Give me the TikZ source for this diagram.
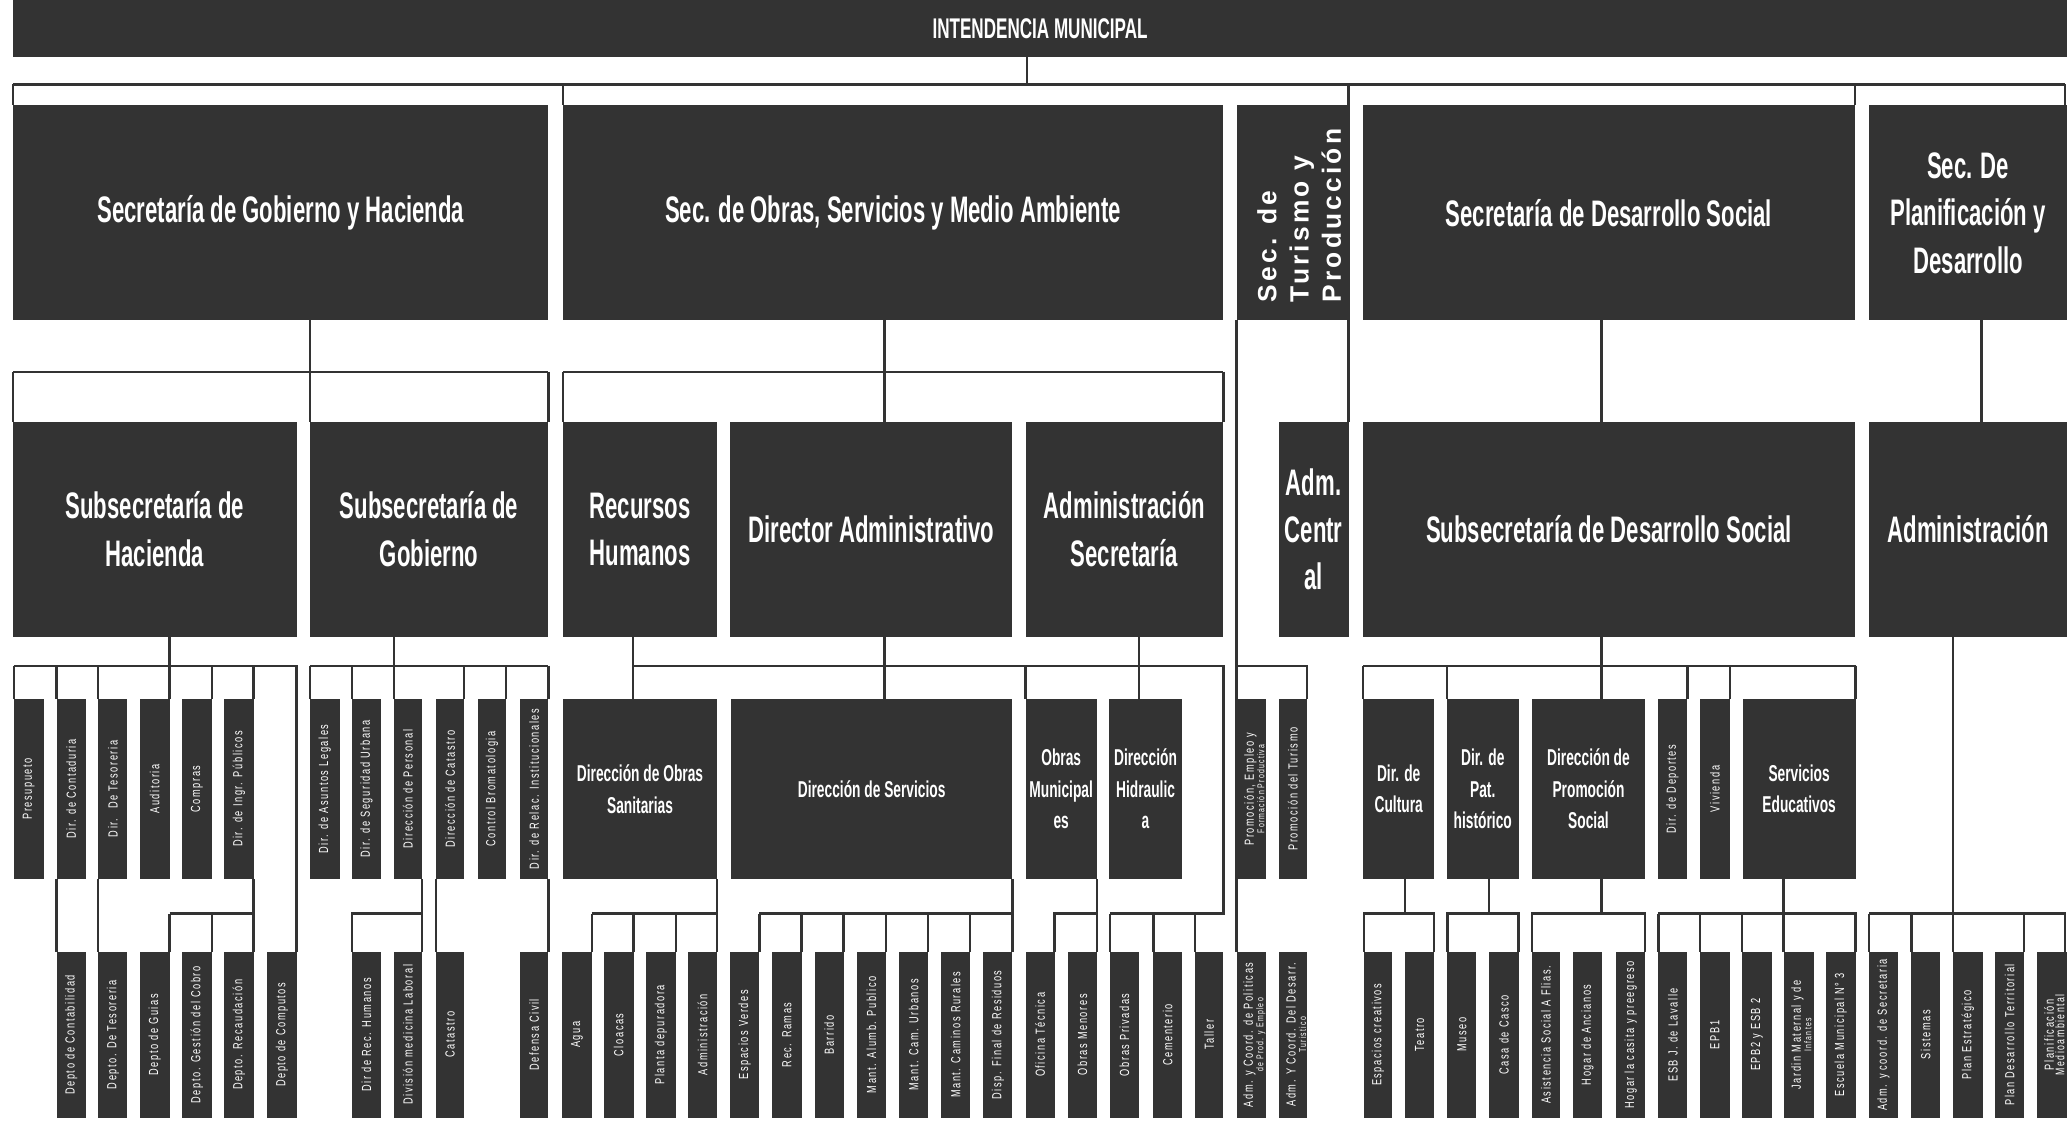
\documentclass[tikz,border=0pt]{standalone}
\usepackage{fontspec}
\setmainfont{Liberation Sans}
\newfontfamily\cbf{Liberation Sans}[FakeStretch=0.6]
\newfontfamily\smf{Liberation Sans}[FakeStretch=0.7,LetterSpace=12]
\newfontfamily\trf{Liberation Sans}[LetterSpace=12]
\definecolor{dk}{HTML}{333333}
\tikzset{
 box/.style={fill=dk,inner sep=0pt,outer sep=0pt,text=white,align=center},
 ln/.style={draw=dk,line width=1.8pt},
 tf/.style={font=\cbf\bfseries\fontsize{21.6}{26}\selectfont},
 bf/.style={font=\cbf\bfseries\fontsize{28}{36}\selectfont},
 mf/.style={font=\cbf\bfseries\fontsize{17.4}{24}\selectfont},
 sm/.style={font=\smf\fontsize{10}{11}\selectfont},
}
\newcommand\bx[7][]{\node[box,#1,minimum width={#5pt-#3pt},minimum height={#6pt-#4pt}] (#2) at ({(#3+#5)/2},{(#4+#6)/2}) {#7};}
\newcommand\rt[1]{\rotatebox{90}{#1}}
\newcommand\cl[6]{\begin{scope}
\clip (#1.south west) rectangle (#1.north east);
\node[sm,rotate=90,align=center,inner sep=0pt,text=white] (#2) at ([xshift=#3pt]#1.center) {#4\\[-3pt]\fontsize{#6}{#6}\selectfont #5};
\end{scope}}
\begin{document}
\begin{tikzpicture}[x=1pt,y=-1pt]
\useasboundingbox (0,0) rectangle (1568,856);
\fill[white] (0,0) rectangle (1568,856);
% top
\bx[tf]{top}{10}{0}{1568}{43}{INTENDENCIA MUNICIPAL}
% row 1
\bx[bf]{s1}{10}{80}{416}{243}{Secretaría de Gobierno y Hacienda}
\bx[bf]{s2}{427}{80}{928}{243}{Sec. de Obras, Servicios y Medio Ambiente}
\bx{s3}{938}{80}{1023}{243}{}
\node[font=\trf\bfseries\fontsize{20}{24.5}\selectfont,text=white,rotate=90,align=left,inner sep=0pt] (s3t) at ([xshift=5pt,yshift=-2pt]s3.center) {Sec. de\\Turismo y\\Producción};
\bx[bf]{s4}{1034}{80}{1407}{243}{Secretaría de Desarrollo Social}
\bx[bf]{s5}{1418}{80}{1568}{243}{Sec. De\\Planificación y\\Desarrollo}
% row 2
\bx[bf]{h}{10}{320}{225}{483}{Subsecretaría de\\Hacienda}
\bx[bf]{g}{235}{320}{416}{483}{Subsecretaría de\\Gobierno}
\bx[bf]{rh}{427}{320}{544}{483}{Recursos\\Humanos}
\bx[bf]{da}{554}{320}{768}{483}{Director Administrativo}
\bx[bf]{as}{778}{320}{928}{483}{Administración\\Secretaría}
\bx[bf]{ac}{970}{320}{1023}{483}{Adm.\\Centr\\al}
\bx[bf]{ds}{1034}{320}{1407}{483}{Subsecretaría de Desarrollo Social}
\bx[bf]{ad}{1418}{320}{1568}{483}{Administración}
% row 3
\bx[sm]{pres}{10.5}{530}{33}{667}{\rt{Presupueto}}
\bx[sm]{dcont}{43}{530}{65}{667}{\rt{Dir. de Contaduria}}
\bx[sm]{dtes}{74.5}{530}{96.7}{667}{\rt{Dir. \ De Tesoreria}}
\bx[sm]{aud}{106}{530}{128.7}{667}{\rt{Auditoria}}
\bx[sm]{comp}{138}{530}{160.7}{667}{\rt{Compras}}
\bx[sm]{ingr}{170}{530}{192.4}{667}{\rt{Dir. de Ingr. Públicos}}
\bx[sm]{leg}{235}{530}{257.6}{667}{\rt{Dir. de Asuntos Legales}}
\bx[sm]{seg}{266.8}{530}{289}{667}{\rt{Dir. de Seguridad Urbana}}
\bx[sm]{pers}{298.9}{530}{320}{667}{\rt{Dirección de Personal}}
\bx[sm]{cat}{330.7}{530}{352.2}{667}{\rt{Dirección de Catastro}}
\bx[sm]{brom}{362.3}{530}{384}{667}{\rt{Control Bromatologia}}
\bx[sm]{rel}{394.5}{530}{416}{667}{\rt{Dir. de Relac. Institucionales}}
\bx[mf]{dos}{427}{530}{544}{667}{Dirección de Obras\\Sanitarias}
\bx[mf]{dser}{554.5}{530}{768}{667}{Dirección de Servicios}
\bx[mf]{om}{778}{530}{832}{667}{Obras\\Municipal\\es}
\bx[mf]{dh}{841.5}{530}{896.5}{667}{Dirección\\Hidraulic\\a}
\bx{pe}{938}{530}{960}{667}{}
\cl{pe}{pet}{2.5}{Promoción, Empleo y}{Formación Productiva}{7.5}
\bx[sm]{pt}{970}{530}{991.5}{667}{\rt{Promoción del Turismo}}
\bx[mf]{cul}{1034}{530}{1088}{667}{Dir. de\\Cultura}
\bx[mf]{pat}{1097.6}{530}{1152}{667}{Dir. de\\Pat.\\histórico}
\bx[mf]{prom}{1162}{530}{1248}{667}{Dirección de\\Promoción\\Social}
\bx[sm]{dep}{1257.5}{530}{1280}{667}{\rt{Dir. de Deportes}}
\bx[sm]{viv}{1289.5}{530}{1312.3}{667}{\rt{Vivienda}}
\bx[mf]{se}{1322}{530}{1407.6}{667}{Servicios\\Educativos}
% row 4
\bx[sm]{dcb}{43}{722}{65}{848}{\rt{Depto de Contabilidad}}
\bx[sm]{dtz}{74.5}{722}{96.7}{848}{\rt{Depto. De Tesoreria}}
\bx[sm]{guia}{106}{722}{128.7}{848}{\rt{Depto de Guias}}
\bx[sm]{gest}{138}{722}{160.7}{848}{\rt{Depto. Gestión del Cobro}}
\bx[sm]{rec}{170}{722}{192.4}{848}{\rt{Depto. Recaudación}}
\bx[sm]{compu}{202.7}{722}{225}{848}{\rt{Depto de Computos}}
\bx[sm]{rrh}{266.8}{722}{289}{848}{\rt{Dir de Rec. Humanos}}
\bx[sm]{med}{298.9}{722}{320}{848}{\rt{División medicina Laboral}}
\bx[sm]{cata}{330.7}{722}{352.2}{848}{\rt{Catastro}}
\bx[sm]{dc}{394.5}{722}{416}{848}{\rt{Defensa Civil}}
\bx[sm]{agua}{426.5}{722}{449}{848}{\rt{Agua}}
\bx[sm]{cloa}{458}{722}{480.6}{848}{\rt{Cloacas}}
\bx[sm]{plan}{490}{722}{512.6}{848}{\rt{Planta depuradora}}
\bx[sm]{adm}{522}{722}{544}{848}{\rt{Administración}}
\bx[sm]{ev}{554}{722}{576}{848}{\rt{Espacios Verdes}}
\bx[sm]{rr}{585.7}{722}{608}{848}{\rt{Rec. Ramas}}
\bx[sm]{bar}{618}{722}{640}{848}{\rt{Barrido}}
\bx[sm]{alum}{650}{722}{672}{848}{\rt{Mant. Alumb. Publico}}
\bx[sm]{cam}{682}{722}{704}{848}{\rt{Mant. Cam. Urbanos}}
\bx[sm]{rur}{714}{722}{736}{848}{\rt{Mant. Caminos Rurales}}
\bx[sm]{disp}{746}{722}{768}{848}{\rt{Disp. Final de Residuos}}
\bx[sm]{ot}{778}{722}{800}{848}{\rt{Oficina Técnica}}
\bx[sm]{omen}{810}{722}{832}{848}{\rt{Obras Menores}}
\bx[sm]{opri}{842}{722}{864}{848}{\rt{Obras Privadas}}
\bx[sm]{cem}{875}{722}{896.5}{848}{\rt{Cementerio}}
\bx[sm]{tal}{906.6}{722}{928}{848}{\rt{Taller}}
\bx{acp}{938}{722}{960}{848}{}
\cl{acp}{acpt}{2.5}{Adm. y Coord. de Politicas}{de Prod. y Empleo}{7.5}
\bx{acd}{970}{722}{991.5}{848}{}
\cl{acd}{acdt}{2.5}{Adm. Y Coord. Del Desarr.}{Turistico}{7.5}
\bx[sm]{ecr}{1034.7}{722}{1056}{848}{\rt{Espacios creativos}}
\bx[sm]{tea}{1066}{722}{1088}{848}{\rt{Teatro}}
\bx[sm]{mus}{1098}{722}{1120}{848}{\rt{Museo}}
\bx[sm]{cc}{1129.5}{722}{1152}{848}{\rt{Casa de Casco}}
\bx[sm]{asi}{1162}{722}{1183.5}{848}{\rt{Asistencia Social A Flias.}}
\bx[sm]{han}{1193.6}{722}{1215}{848}{\rt{Hogar de Ancianos}}
\bx[sm]{hcas}{1226}{722}{1248}{848}{\rt{Hogar la casita y preegreso}}
\bx[sm]{esb}{1258}{722}{1280}{848}{\rt{ESB J. de Lavalle}}
\bx[sm]{epb1}{1289.5}{722}{1312}{848}{\rt{EPB1}}
\bx[sm]{epb2}{1321.6}{722}{1344}{848}{\rt{EPB2 y ESB 2}}
\bx{jard}{1353}{722}{1376}{848}{}
\cl{jard}{jardt}{2}{Jardin Maternal y de}{Infantes}{7.5}
\bx[sm]{esc}{1385}{722}{1407.6}{848}{\rt{Escuela Municipal N° 3}}
\bx[sm]{acs}{1418}{722}{1439.5}{848}{\rt{Adm. y coord. de Secretaria}}
\bx[sm]{sis}{1450}{722}{1471.6}{848}{\rt{Sistemas}}
\bx[sm]{pest}{1481.7}{722}{1504}{848}{\rt{Plan Estratégico}}
\bx[sm]{pdt}{1513.4}{722}{1535.5}{848}{\rt{Plan Desarrollo Territorial}}
\bx{pma}{1545}{722}{1567.7}{848}{}
\cl{pma}{pmat}{2}{Planificación}{Medioambiental}{9.5}
% levels
\coordinate (L0) at (0,64);
\coordinate (L1) at (0,282);
\coordinate (L2) at (0,505);
\coordinate (L3) at (0,693);
\coordinate (xT) at (779,0);
\coordinate (xB) at (671,0);
\coordinate (xRH) at (480,0);
\coordinate (xAS) at (864,0);
\coordinate (xD) at (1215,0);
\coordinate (xE) at (1503,0);
\coordinate (xR) at (1566.5,0);
% top connectors
\draw[ln] (top.south -| xT) -- (L0 -| xT);
\draw[ln,line width=2.2pt] (L0 -| s1.west) -- (L0 -| xR);
\draw[ln] (L0 -| s1.west) -- (s1.north west);
\draw[ln] (L0 -| s2.west) -- (s2.north west);
\draw[ln] (L0 -| s3.east) -- (ac.north east);
\draw[ln] (L0 -| s4.east) -- (s4.north east);
\draw[ln] (L0 -| xR) -- (s5.north -| xR);
% row1 -> row2
\draw[ln] (s1.south -| g.west) -- (g.north west);
\draw[ln] (L1 -| h.west) -- (L1 -| g.east);
\draw[ln] (L1 -| h.west) -- (h.north west);
\draw[ln] (L1 -| g.east) -- (g.north east);
\draw[ln] (s2.south -| xB) -- (da.north -| xB);
\draw[ln] (L1 -| rh.west) -- (L1 -| as.east);
\draw[ln] (L1 -| rh.west) -- (rh.north west);
\draw[ln] (L1 -| as.east) -- (as.north east);
\draw[ln] (s3.south west) -- (acp.north west);
\draw[ln] (L2 -| s3.west) -- (L2 -| pt.east) -- (pt.north east);
\draw[ln] (s4.south -| xD) -- (ds.north -| xD);
\draw[ln] (s5.south -| xE) -- (ad.north -| xE);
% Hacienda
\draw[ln] (h.south -| aud.east) -- (aud.north east);
\draw[ln] (L2 -| pres.west) -- (L2 -| compu.east) -- (compu.north east);
\foreach \n in {pres,dcont,dtes} \draw[ln] (L2 -| \n.west) -- (\n.north west);
\foreach \n in {comp,ingr} \draw[ln] (L2 -| \n.east) -- (\n.north east);
\draw[ln] (dcont.south west) -- (dcb.north west);
\draw[ln] (dtes.south west) -- (dtz.north west);
\draw[ln] (ingr.south east) -- (rec.north east);
\draw[ln] (L3 -| guia.east) -- (L3 -| rec.east);
\foreach \n in {guia,gest} \draw[ln] (L3 -| \n.east) -- (\n.north east);
% Gobierno
\draw[ln] (g.south -| pers.west) -- (pers.north west);
\draw[ln] (L2 -| leg.west) -- (L2 -| rel.east);
\foreach \n in {leg,seg} \draw[ln] (L2 -| \n.west) -- (\n.north west);
\foreach \n in {cat,brom,rel} \draw[ln] (L2 -| \n.east) -- (\n.north east);
\draw[ln] (pers.south east) -- (med.north east);
\draw[ln] (L3 -| med.east) -- (L3 -| rrh.west) -- (rrh.north west);
\draw[ln] (cat.south west) -- (cata.north west);
\draw[ln] (rel.south east) -- (dc.north east);
% Obras
\draw[ln] (rh.south -| xRH) -- (dos.north -| xRH);
\draw[ln] (da.south -| xB) -- (dser.north -| xB);
\draw[ln] (as.south -| xAS) -- (dh.north -| xAS);
\draw[ln] (L2 -| xRH) -- (L2 -| tal.east) -- (L3 -| tal.east) -- (L3 -| opri.west);
\draw[ln] (L2 -| om.west) -- (om.north west);
\foreach \n in {opri,cem,tal} \draw[ln] (L3 -| \n.west) -- (\n.north west);
\draw[ln] (dos.south east) -- (adm.north east);
\draw[ln] (L3 -| agua.east) -- (L3 -| adm.east);
\foreach \n in {agua,cloa,plan} \draw[ln] (L3 -| \n.east) -- (\n.north east);
\draw[ln] (dser.south east) -- (disp.north east);
\draw[ln] (L3 -| ev.east) -- (L3 -| disp.east);
\foreach \n in {ev,rr,bar,alum,cam,rur} \draw[ln] (L3 -| \n.east) -- (\n.north east);
\draw[ln] (om.south east) -- (omen.north east);
\draw[ln] (L3 -| omen.east) -- (L3 -| ot.east) -- (ot.north east);
% Desarrollo
\draw[ln] (ds.south -| xD) -- (prom.north -| xD);
\draw[ln] (L2 -| cul.west) -- (L2 -| se.east);
\foreach \n in {cul,pat} \draw[ln] (L2 -| \n.west) -- (\n.north west);
\foreach \n in {dep,viv,se} \draw[ln] (L2 -| \n.east) -- (\n.north east);
\draw[ln] (cul.south -| tea.west) -- (L3 -| tea.west);
\draw[ln] (ecr.north west) -- (L3 -| ecr.west) -- (L3 -| tea.east) -- (tea.north east);
\draw[ln] (pat.south -| cc.west) -- (L3 -| cc.west);
\draw[ln] (mus.north west) -- (L3 -| mus.west) -- (L3 -| cc.east) -- (cc.north east);
\draw[ln] (prom.south -| han.east) -- (L3 -| han.east);
\draw[ln] (asi.north west) -- (L3 -| asi.west) -- (L3 -| hcas.east) -- (hcas.north east);
\draw[ln] (se.south -| jard.west) -- (jard.north west);
\draw[ln] (L3 -| esb.west) -- (L3 -| esc.east) -- (esc.north east);
\foreach \n in {esb,epb1,epb2} \draw[ln] (L3 -| \n.west) -- (\n.north west);
% Planificacion
\draw[ln] (ad.south -| pest.west) -- (pest.north west);
\draw[ln] (L3 -| acs.west) -- (L3 -| xR) -- (pma.north -| xR);
\foreach \n in {acs,sis} \draw[ln] (L3 -| \n.west) -- (\n.north west);
\draw[ln] (L3 -| pdt.east) -- (pdt.north east);
\end{tikzpicture}
\end{document}
